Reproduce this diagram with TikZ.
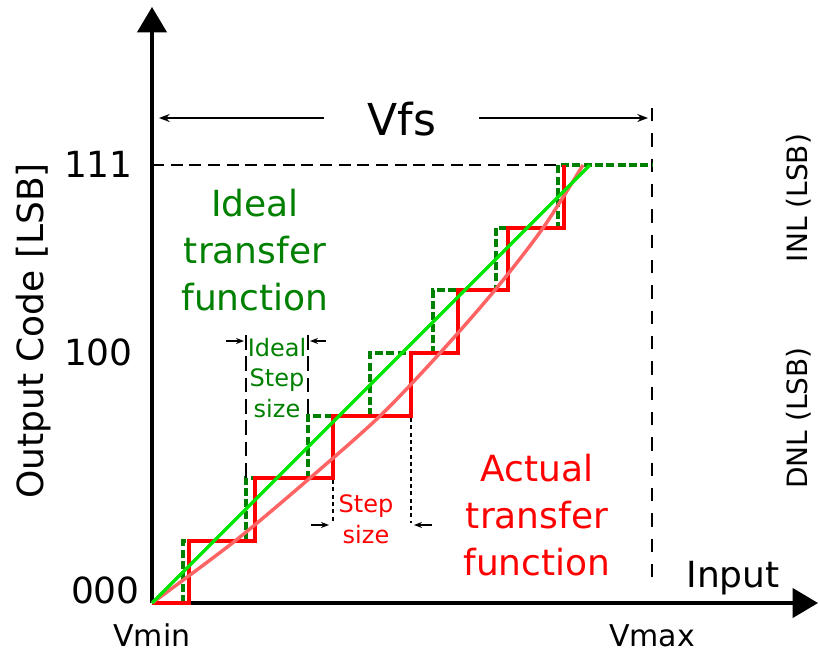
\documentclass[tikz,border=0pt]{standalone}
\usepackage{fontspec}
\setmainfont{DejaVu Sans}
\usetikzlibrary{arrows.meta}
\definecolor{idealgreen}{RGB}{0,128,0}
\definecolor{linegreen}{RGB}{0,228,0}
\definecolor{actualred}{RGB}{255,0,0}
\definecolor{curvered}{RGB}{255,100,100}
\begin{document}
\begin{tikzpicture}[x=0.75pt,y=-0.75pt,
  axisline/.style={line width=2.3pt,-{Triangle[length=19pt,width=22pt]}},
  bigtext/.style={font=\fontsize{27}{35}\selectfont,align=center,inner sep=0pt},
  vfstext/.style={font=\fontsize{33}{40}\selectfont,inner sep=0pt},
  smalltext/.style={font=\fontsize{18}{23}\selectfont,align=center,inner sep=0pt},
  edgetext/.style={font=\fontsize{22.5}{27}\selectfont,inner sep=0pt},
  sidetext/.style={font=\fontsize{21}{25}\selectfont,inner sep=0pt,rotate=90,anchor=base},
  dimarrow/.style={line width=1.1pt,-{Stealth[length=8pt,width=6pt]}},
  tinyarrow/.style={line width=1pt,-{Stealth[length=6pt,width=4.5pt]}},
  guide/.style={draw=black,line width=1.1pt,dash pattern=on 9pt off 5pt},
  vguide/.style={draw=black,line width=1.1pt,dash pattern=on 10pt off 9pt},
  stepguide/.style={draw=black,line width=0.8pt,dash pattern=on 11pt off 5pt},
  dotguide/.style={draw=black,line width=0.9pt,dash pattern=on 3pt off 2.5pt},
  idealstairs/.style={draw=idealgreen,line width=2.6pt,dash pattern=on 6pt off 2.5pt},
  actualstairs/.style={draw=actualred,line width=2.6pt},
  idealline/.style={draw=linegreen,line width=2.6pt},
  actualcurve/.style={draw=curvered,line width=2.6pt}]
\useasboundingbox (0,0) rectangle (819,654);

% axes
\coordinate (origin) at (152,603);
\coordinate (ytip) at (152,7);
\coordinate (xtip) at (818,603);
\draw[axisline] (origin) -- (ytip);
\draw[axisline] (origin) -- (xtip);

% full-scale guides
\coordinate (topL) at (152,165);
\coordinate (topM) at (558,165);
\coordinate (fsTop) at (652,108);
\coordinate (fsBot) at (652,578);
\draw[guide] (topL) -- (topM);
\draw[vguide] (fsTop) -- (fsBot);

% full-scale span
\node[vfstext,anchor=base] (vfs) at (402,135) {Vfs};
\coordinate (vfsLs) at (324,118);
\coordinate (vfsLe) at (159,118);
\coordinate (vfsRs) at (479,118);
\coordinate (vfsRe) at (648,118);
\draw[dimarrow] (vfsLs) -- (vfsLe);
\draw[dimarrow] (vfsRs) -- (vfsRe);

% ideal staircase
\path[idealstairs] (183,603) -- (183,541) -- (246,541) -- (246,478) -- (308,478)
  -- (308,416) -- (370,416) -- (370,353) -- (433,353) -- (433,290) -- (496,290)
  -- (496,228) -- (558,228) -- (558,165) -- (652,165);

% actual staircase
\path[actualstairs] (152,603) -- (189,603) -- (189,541) -- (255,541) -- (255,478)
  -- (333,478) -- (333,416) -- (411,416) -- (411,353) -- (458,353) -- (458,290)
  -- (508,290) -- (508,228) -- (564,228) -- (564,165);

% transfer functions
\path[actualcurve] plot[smooth,tension=0.5] coordinates
  {(152,603) (235,541) (310,478) (380,416) (440,353) (495,290) (543,228) (583,165)};
\coordinate (idealEnd) at (590,165);
\path[idealline] (origin) -- (idealEnd);

% ideal step size marker
\coordinate (isL1) at (246,335);
\coordinate (isL2) at (246,478);
\coordinate (isR1) at (308,335);
\coordinate (isR2) at (308,416);
\path[stepguide] (isL1) -- (isL2);
\path[stepguide] (isR1) -- (isR2);
\coordinate (isAs) at (226,341);
\coordinate (isAe) at (244,341);
\coordinate (isBs) at (326,341);
\coordinate (isBe) at (310,341);
\draw[tinyarrow] (isAs) -- (isAe);
\draw[tinyarrow] (isBs) -- (isBe);
\node[smalltext,text=idealgreen] (idealstep) at (277,378) {Ideal\\Step\\size};

% actual step size marker
\coordinate (asL1) at (333,480);
\coordinate (asL2) at (333,521);
\coordinate (asR1) at (411,418);
\coordinate (asR2) at (411,523);
\path[dotguide] (asL1) -- (asL2);
\path[dotguide] (asR1) -- (asR2);
\coordinate (asAs) at (311,525);
\coordinate (asAe) at (329,525);
\coordinate (asBs) at (432,525);
\coordinate (asBe) at (414,525);
\draw[tinyarrow] (asAs) -- (asAe);
\draw[tinyarrow] (asBs) -- (asBe);
\node[smalltext,text=actualred] (actualstep) at (366,519) {Step\\size};

% function labels
\node[bigtext,text=idealgreen] (idealtxt) at (255,250) {Ideal\\transfer\\function};
\node[bigtext,text=actualred] (actualtxt) at (537,515) {Actual\\transfer\\function};

% axis labels
\node[bigtext,anchor=base east] (c111) at (133,177) {111};
\node[bigtext,anchor=base east] (c100) at (133,365) {100};
\node[bigtext,anchor=base east] (c000) at (140,603) {000};
\node[edgetext,anchor=base] (vmin) at (152,646) {Vmin};
\node[edgetext,anchor=base] (vmax) at (652,646) {Vmax};
\node[bigtext,anchor=base] (input) at (733,587) {Input};
\node[bigtext,rotate=90,anchor=base] (ylabel) at (43,331) {Output Code [LSB]};
\node[sidetext] (inl) at (807,198) {INL (LSB)};
\node[sidetext] (dnl) at (807,418) {DNL (LSB)};
\end{tikzpicture}
\end{document}
